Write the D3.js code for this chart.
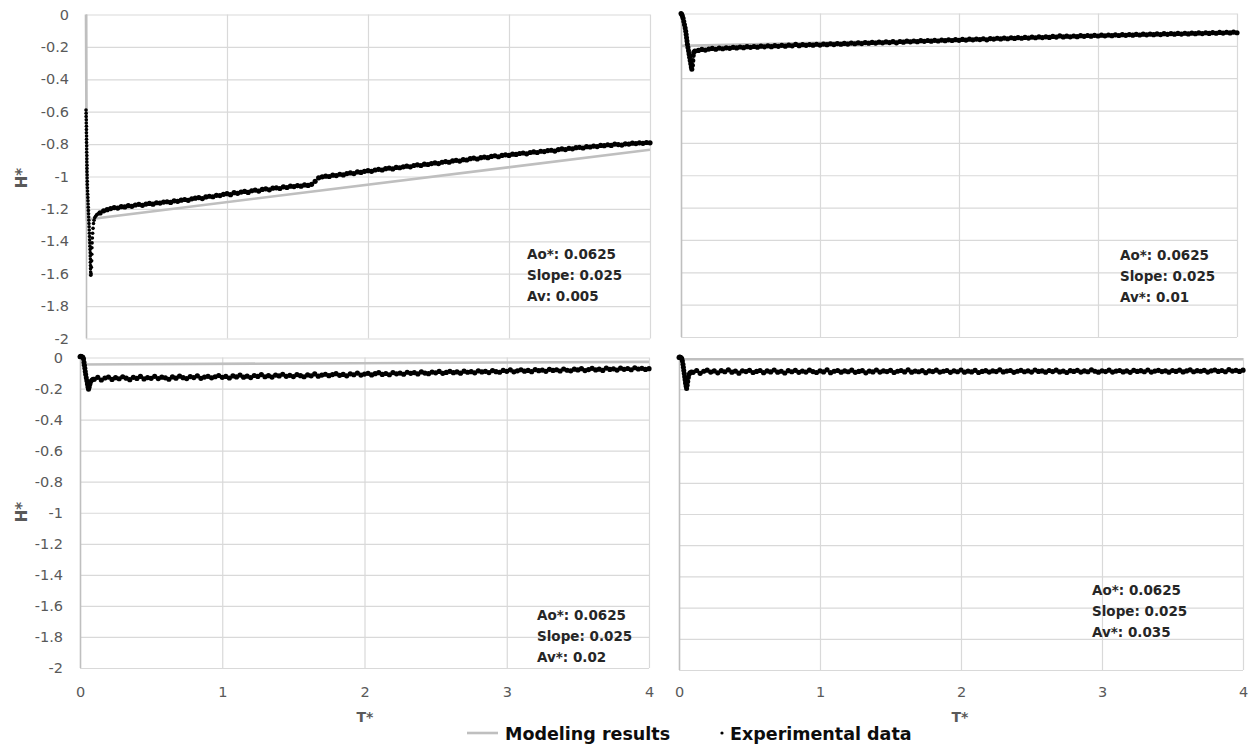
<!DOCTYPE html>
<html>
<head>
<meta charset="utf-8">
<script src="https://cdn.jsdelivr.net/npm/d3@7"></script>
<style>
  body { margin: 0; background: #fff; }
  svg { display: block; }
  text { font-family: "DejaVu Sans", "Open Sans", sans-serif; }
</style>
</head>
<body>
<svg id="chart" width="1255" height="749"></svg>
<script>
// ---- Data -------------------------------------------------------------
// Common dimensionless time grid (T*) for the logged experimental series
const tGrid = [
  0.100,0.125,0.150,0.175,0.200,0.225,0.250,0.275,
  0.300,0.325,0.350,0.375,0.400,0.425,0.450,0.475,
  0.500,0.525,0.550,0.575,0.600,0.625,0.650,0.675,
  0.700,0.725,0.750,0.775,0.800,0.825,0.850,0.875,
  0.900,0.925,0.950,0.975,1.000,1.025,1.050,1.075,
  1.100,1.125,1.150,1.175,1.200,1.225,1.250,1.275,
  1.300,1.325,1.350,1.375,1.400,1.425,1.450,1.475,
  1.500,1.525,1.550,1.575,1.600,1.625,1.650,1.675,
  1.700,1.725,1.750,1.775,1.800,1.825,1.850,1.875,
  1.900,1.925,1.950,1.975,2.000,2.025,2.050,2.075,
  2.100,2.125,2.150,2.175,2.200,2.225,2.250,2.275,
  2.300,2.325,2.350,2.375,2.400,2.425,2.450,2.475,
  2.500,2.525,2.550,2.575,2.600,2.625,2.650,2.675,
  2.700,2.725,2.750,2.775,2.800,2.825,2.850,2.875,
  2.900,2.925,2.950,2.975,3.000,3.025,3.050,3.075,
  3.100,3.125,3.150,3.175,3.200,3.225,3.250,3.275,
  3.300,3.325,3.350,3.375,3.400,3.425,3.450,3.475,
  3.500,3.525,3.550,3.575,3.600,3.625,3.650,3.675,
  3.700,3.725,3.750,3.775,3.800,3.825,3.850,3.875,
  3.900,3.925,3.950,3.975,4.000
];

// Experimental H* on tGrid, Av = 0.005
const hTopLeft = [
  -1.225,-1.212,-1.205,-1.198,-1.192,-1.195,-1.186,-1.188,
  -1.180,-1.184,-1.176,-1.172,-1.178,-1.170,-1.166,-1.171,
  -1.162,-1.164,-1.158,-1.156,-1.160,-1.150,-1.153,-1.146,
  -1.142,-1.147,-1.138,-1.134,-1.130,-1.136,-1.126,-1.122,
  -1.125,-1.116,-1.118,-1.110,-1.106,-1.112,-1.100,-1.104,
  -1.096,-1.092,-1.098,-1.088,-1.084,-1.090,-1.080,-1.076,
  -1.082,-1.072,-1.070,-1.074,-1.064,-1.068,-1.060,-1.062,
  -1.056,-1.060,-1.052,-1.055,-1.048,-1.030,-1.008,-1.002,
  -0.998,-1.000,-0.992,-0.994,-0.986,-0.990,-0.982,-0.978,
  -0.982,-0.972,-0.975,-0.968,-0.964,-0.968,-0.960,-0.956,
  -0.960,-0.952,-0.948,-0.953,-0.944,-0.946,-0.940,-0.936,
  -0.940,-0.932,-0.928,-0.932,-0.924,-0.926,-0.920,-0.916,
  -0.920,-0.912,-0.908,-0.912,-0.904,-0.900,-0.905,-0.896,
  -0.898,-0.890,-0.886,-0.892,-0.884,-0.880,-0.884,-0.876,
  -0.872,-0.878,-0.870,-0.866,-0.870,-0.862,-0.864,-0.858,
  -0.855,-0.860,-0.852,-0.848,-0.852,-0.844,-0.846,-0.840,
  -0.838,-0.843,-0.834,-0.830,-0.834,-0.826,-0.829,-0.822,
  -0.820,-0.824,-0.816,-0.818,-0.812,-0.815,-0.808,-0.810,
  -0.804,-0.808,-0.800,-0.803,-0.806,-0.798,-0.800,-0.794,
  -0.797,-0.792,-0.795,-0.790,-0.792
];

// Experimental H* on tGrid, Av* = 0.01
const hTopRight = [
  -0.232,-0.228,-0.222,-0.226,-0.220,-0.216,-0.221,-0.214,
  -0.218,-0.212,-0.215,-0.209,-0.213,-0.207,-0.211,-0.205,
  -0.209,-0.204,-0.208,-0.202,-0.206,-0.200,-0.205,-0.199,
  -0.203,-0.197,-0.202,-0.196,-0.200,-0.191,-0.199,-0.193,
  -0.197,-0.192,-0.196,-0.190,-0.195,-0.189,-0.193,-0.187,
  -0.192,-0.186,-0.190,-0.185,-0.189,-0.183,-0.187,-0.182,
  -0.186,-0.180,-0.184,-0.179,-0.183,-0.177,-0.181,-0.176,
  -0.180,-0.174,-0.181,-0.173,-0.177,-0.171,-0.175,-0.170,
  -0.174,-0.168,-0.172,-0.167,-0.171,-0.166,-0.170,-0.164,
  -0.168,-0.163,-0.167,-0.162,-0.166,-0.160,-0.164,-0.159,
  -0.163,-0.158,-0.161,-0.156,-0.163,-0.155,-0.158,-0.153,
  -0.157,-0.152,-0.156,-0.150,-0.154,-0.149,-0.153,-0.148,
  -0.152,-0.146,-0.150,-0.145,-0.149,-0.144,-0.148,-0.142,
  -0.146,-0.138,-0.145,-0.140,-0.144,-0.139,-0.143,-0.137,
  -0.141,-0.136,-0.140,-0.135,-0.139,-0.134,-0.138,-0.133,
  -0.137,-0.132,-0.136,-0.131,-0.135,-0.130,-0.134,-0.129,
  -0.133,-0.128,-0.132,-0.127,-0.131,-0.126,-0.130,-0.125,
  -0.129,-0.124,-0.128,-0.123,-0.127,-0.122,-0.126,-0.121,
  -0.125,-0.120,-0.124,-0.119,-0.123,-0.118,-0.122,-0.117,
  -0.121,-0.116,-0.120,-0.115,-0.119
];

// Experimental H* on tGrid, Av* = 0.02
const hBottomLeft = [
  -0.140,-0.128,-0.145,-0.132,-0.126,-0.141,-0.130,-0.137,
  -0.124,-0.133,-0.143,-0.128,-0.135,-0.122,-0.138,-0.129,
  -0.134,-0.121,-0.136,-0.127,-0.131,-0.140,-0.125,-0.133,
  -0.120,-0.130,-0.136,-0.123,-0.129,-0.118,-0.134,-0.126,
  -0.121,-0.131,-0.124,-0.116,-0.128,-0.122,-0.132,-0.119,
  -0.125,-0.113,-0.127,-0.120,-0.129,-0.116,-0.122,-0.110,
  -0.124,-0.117,-0.126,-0.113,-0.119,-0.108,-0.121,-0.115,
  -0.123,-0.110,-0.117,-0.124,-0.112,-0.118,-0.106,-0.120,
  -0.113,-0.108,-0.117,-0.110,-0.104,-0.115,-0.109,-0.118,
  -0.105,-0.111,-0.100,-0.113,-0.107,-0.102,-0.112,-0.104,
  -0.098,-0.109,-0.103,-0.111,-0.097,-0.105,-0.100,-0.108,
  -0.095,-0.102,-0.097,-0.106,-0.093,-0.100,-0.104,-0.094,
  -0.099,-0.090,-0.102,-0.096,-0.089,-0.098,-0.093,-0.101,
  -0.088,-0.095,-0.091,-0.099,-0.086,-0.093,-0.089,-0.097,
  -0.084,-0.091,-0.095,-0.083,-0.089,-0.080,-0.092,-0.086,
  -0.079,-0.088,-0.083,-0.091,-0.078,-0.085,-0.081,-0.089,
  -0.076,-0.083,-0.079,-0.087,-0.074,-0.082,-0.086,-0.075,
  -0.080,-0.072,-0.084,-0.078,-0.070,-0.080,-0.075,-0.083,
  -0.068,-0.077,-0.073,-0.081,-0.069,-0.076,-0.071,-0.079,
  -0.066,-0.074,-0.070,-0.077,-0.072
];

// Experimental H* on tGrid, Av* = 0.035
const hBottomRight = [
  -0.092,-0.080,-0.098,-0.085,-0.078,-0.090,-0.083,-0.095,
  -0.081,-0.088,-0.076,-0.091,-0.084,-0.097,-0.082,-0.087,
  -0.079,-0.093,-0.086,-0.080,-0.094,-0.083,-0.089,-0.077,
  -0.091,-0.085,-0.096,-0.081,-0.088,-0.079,-0.092,-0.084,
  -0.090,-0.078,-0.087,-0.093,-0.082,-0.089,-0.076,-0.094,
  -0.085,-0.080,-0.091,-0.083,-0.088,-0.078,-0.092,-0.086,
  -0.081,-0.095,-0.084,-0.089,-0.077,-0.090,-0.083,-0.087,
  -0.079,-0.093,-0.085,-0.080,-0.089,-0.076,-0.091,-0.084,
  -0.088,-0.081,-0.094,-0.083,-0.087,-0.078,-0.090,-0.085,
  -0.080,-0.092,-0.082,-0.088,-0.077,-0.091,-0.084,-0.089,
  -0.079,-0.093,-0.086,-0.081,-0.090,-0.083,-0.087,-0.076,
  -0.089,-0.084,-0.080,-0.092,-0.085,-0.079,-0.088,-0.082,
  -0.090,-0.077,-0.086,-0.083,-0.091,-0.080,-0.087,-0.078,
  -0.089,-0.084,-0.093,-0.081,-0.086,-0.079,-0.090,-0.083,
  -0.088,-0.076,-0.085,-0.091,-0.082,-0.087,-0.078,-0.090,
  -0.084,-0.080,-0.089,-0.083,-0.092,-0.079,-0.086,-0.081,
  -0.088,-0.077,-0.090,-0.084,-0.079,-0.087,-0.082,-0.091,
  -0.080,-0.086,-0.078,-0.089,-0.083,-0.076,-0.088,-0.081,
  -0.085,-0.079,-0.090,-0.082,-0.077,-0.086,-0.080,-0.088,
  -0.075,-0.084,-0.079,-0.086,-0.078
];

// Early transient (T* < 0.1), logged more densely
const tStartTopLeft = [0.000,0.001,0.001,0.002,0.002,0.003,0.003,0.003,0.004,0.004,0.004,0.005,0.005,0.005,0.006,0.006,0.006,0.007,0.007,0.007,0.008,0.008,0.009,0.009,0.010,0.011,0.012,0.013,0.014,0.015,0.016,0.017,0.018,0.019,0.020,0.021,0.022,0.023,0.024,0.025,0.026,0.027,0.028,0.029,0.030,0.030,0.031,0.031,0.032,0.032,0.033,0.034,0.036,0.038,0.040,0.041,0.042,0.043,0.045,0.047,0.050,0.053,0.057,0.062,0.068,0.075,0.083,0.091];
const hStartTopLeft = [-0.59,-0.61,-0.63,-0.65,-0.67,-0.69,-0.71,-0.73,-0.75,-0.77,-0.79,-0.81,-0.83,-0.85,-0.87,-0.89,-0.91,-0.93,-0.95,-0.97,-0.99,-1.01,-1.03,-1.05,-1.07,-1.09,-1.11,-1.13,-1.15,-1.17,-1.19,-1.21,-1.23,-1.25,-1.27,-1.29,-1.31,-1.33,-1.35,-1.37,-1.39,-1.41,-1.43,-1.45,-1.47,-1.49,-1.51,-1.53,-1.55,-1.57,-1.59,-1.61,-1.60,-1.56,-1.52,-1.48,-1.44,-1.41,-1.38,-1.35,-1.32,-1.29,-1.27,-1.255,-1.245,-1.237,-1.232,-1.228];

const tStartTopRight = [0.000,0.005,0.010,0.015,0.020,0.025,0.030,0.034,0.037,0.040,0.043,0.046,0.050,0.054,0.058,0.062,0.066,0.070,0.074,0.078,0.082,0.085,0.088,0.092];
const hStartTopRight = [0.000,-0.005,-0.015,-0.030,-0.050,-0.070,-0.090,-0.110,-0.130,-0.150,-0.170,-0.190,-0.210,-0.230,-0.250,-0.270,-0.290,-0.310,-0.330,-0.345,-0.320,-0.290,-0.260,-0.240];

const tStartBottomLeft = [0.000,0.005,0.010,0.015,0.020,0.025,0.028,0.031,0.034,0.037,0.040,0.044,0.048,0.052,0.056,0.060,0.065,0.070,0.075,0.085,0.092];
const hStartBottomLeft = [0.005,0.008,0.006,0.004,0.002,-0.010,-0.030,-0.050,-0.070,-0.090,-0.110,-0.130,-0.150,-0.170,-0.190,-0.205,-0.190,-0.170,-0.155,-0.145,-0.140];

const tStartBottomRight = [0.000,0.004,0.008,0.012,0.016,0.020,0.024,0.028,0.031,0.034,0.037,0.040,0.043,0.046,0.050,0.054,0.058,0.062,0.066,0.071,0.078,0.088];
const hStartBottomRight = [0.003,0.006,0.005,0.003,0.000,-0.005,-0.020,-0.040,-0.060,-0.080,-0.100,-0.120,-0.140,-0.160,-0.180,-0.195,-0.175,-0.150,-0.125,-0.105,-0.095,-0.090];

// Model curves (T*, H*)
const modelTTopLeft = [0, 0.006, 4];
const modelHTopLeft = [0, -1.265, -0.835];
const modelTTopRight = [0, 4];
const modelHTopRight = [-0.2, -0.122];
const modelTBottomLeft = [0, 4];
const modelHBottomLeft = [-0.045, -0.028];
const modelTBottomRight = [0, 4];
const modelHBottomRight = [-0.008, -0.008];

// Parameter notes
const notesTopLeft = ["Ao*: 0.0625", "Slope: 0.025", "Av: 0.005"];
const notesTopRight = ["Ao*: 0.0625", "Slope: 0.025", "Av*: 0.01"];
const notesBottomLeft = ["Ao*: 0.0625", "Slope: 0.025", "Av*: 0.02"];
const notesBottomRight = ["Ao*: 0.0625", "Slope: 0.025", "Av*: 0.035"];

// Axes
const xTicks = [0, 1, 2, 3, 4];
const xTickLabels = ["0", "1", "2", "3", "4"];
const yTicks = [0, -0.2, -0.4, -0.6, -0.8, -1, -1.2, -1.4, -1.6, -1.8, -2];
const yTickLabels = ["0", "-0.2", "-0.4", "-0.6", "-0.8", "-1", "-1.2", "-1.4", "-1.6", "-1.8", "-2"];
const xTitle = "T*";
const yTitle = "H*";
const legendLabels = ["Modeling results", "Experimental data"];

// ---- Layout -----------------------------------------------------------
const panels = [
  { x0: 86, x1: 650, y0: 14.5, y1: 338.5, t: tGrid, h: hTopLeft, ts: tStartTopLeft, hs: hStartTopLeft, rs: 1.8,
    mt: modelTTopLeft, mh: modelHTopLeft, notes: notesTopLeft, note: [527, 259], yLab: true, xLab: false },
  { x0: 681, x1: 1237, y0: 13.5, y1: 337, t: tGrid, h: hTopRight, ts: tStartTopRight, hs: hStartTopRight, rs: 2.5,
    mt: modelTTopRight, mh: modelHTopRight, notes: notesTopRight, note: [1120, 260], yLab: false, xLab: false },
  { x0: 80, x1: 649, y0: 357.5, y1: 668, t: tGrid, h: hBottomLeft, ts: tStartBottomLeft, hs: hStartBottomLeft, rs: 2.5,
    mt: modelTBottomLeft, mh: modelHBottomLeft, notes: notesBottomLeft, note: [537, 620], yLab: true, xLab: true },
  { x0: 679, x1: 1243, y0: 358, y1: 670, t: tGrid, h: hBottomRight, ts: tStartBottomRight, hs: hStartBottomRight, rs: 2.5,
    mt: modelTBottomRight, mh: modelHBottomRight, notes: notesBottomRight, note: [1092, 594.5], yLab: false, xLab: true }
];

const GRID = "#d9d9d9", AXIS = "#bfbfbf", TICK_TXT = "#595959", MODEL = "#bfbfbf";
const svg = d3.select("#chart");

panels.forEach(p => {
  const x = d3.scaleLinear().domain([0, 4]).range([p.x0, p.x1]);
  const y = d3.scaleLinear().domain([-2, 0]).range([p.y1, p.y0]);
  const g = svg.append("g");

  // horizontal gridlines + y tick labels
  const yAxis = d3.axisLeft(y)
    .tickValues(yTicks)
    .tickSize(-(p.x1 - p.x0))
    .tickPadding(17)
    .tickFormat((d, i) => p.yLab ? yTickLabels[i] : "");
  const gy = g.append("g").attr("transform", `translate(${p.x0},0)`).call(yAxis);
  gy.select(".domain").remove();
  gy.selectAll("line").attr("stroke", GRID).attr("stroke-width", 1.2);
  gy.selectAll("text").attr("fill", TICK_TXT).style("font-size", "14.5px")
    .style("font-family", '"DejaVu Sans", sans-serif');

  // vertical gridlines + x tick labels
  const xAxis = d3.axisBottom(x)
    .tickValues(xTicks)
    .tickSize(-(p.y1 - p.y0))
    .tickPadding(697 - 10 - p.y1)
    .tickFormat((d, i) => p.xLab ? xTickLabels[i] : "");
  const gx = g.append("g").attr("transform", `translate(0,${p.y1})`).call(xAxis);
  gx.select(".domain").remove();
  gx.selectAll("line").attr("stroke", d => d === 0 ? AXIS : GRID).attr("stroke-width", d => d === 0 ? 1.6 : 1.2);
  gx.selectAll("text").attr("fill", TICK_TXT).style("font-size", "14.5px")
    .style("font-family", '"DejaVu Sans", sans-serif');

  // model curve
  const line = d3.line().x(d => x(d[0])).y(d => y(d[1]));
  g.append("path")
    .datum(p.mt.map((t, i) => [t, p.mh[i]]))
    .attr("d", line)
    .attr("fill", "none")
    .attr("stroke", MODEL)
    .attr("stroke-width", 2.6);

  // experimental points: early transient, then the regular log
  const dots = g.append("g").attr("fill", "#000");
  dots.selectAll("circle.start")
    .data(p.ts.map((t, i) => [t, p.hs[i]]))
    .join("circle")
    .attr("class", "start")
    .attr("cx", d => x(d[0]))
    .attr("cy", d => y(d[1]))
    .attr("r", p.rs);
  dots.selectAll("circle.log")
    .data(p.t.slice(0, p.h.length).map((t, i) => [t, p.h[i]]))
    .join("circle")
    .attr("class", "log")
    .attr("cx", d => x(d[0]))
    .attr("cy", d => y(d[1]))
    .attr("r", 2.6);

  // parameter notes
  g.append("g").selectAll("text")
    .data(p.notes)
    .join("text")
    .attr("x", p.note[0])
    .attr("y", (d, i) => p.note[1] + i * 21)
    .attr("fill", "#262626")
    .style("font-size", "13.5px")
    .style("font-weight", "bold")
    .text(d => d);
});

// axis titles
[178, 512].forEach(cy => {
  svg.append("text")
    .attr("transform", `translate(22,${cy}) rotate(-90)`)
    .attr("text-anchor", "middle")
    .attr("dominant-baseline", "central")
    .attr("fill", TICK_TXT)
    .style("font-size", "15px")
    .style("font-weight", "bold")
    .text(yTitle);
});
[365, 960].forEach(cx => {
  svg.append("text")
    .attr("x", cx).attr("y", 722)
    .attr("text-anchor", "middle")
    .attr("fill", TICK_TXT)
    .style("font-size", "14px")
    .style("font-weight", "bold")
    .text(xTitle);
});

// legend
const lg = svg.append("g");
lg.append("line").attr("x1", 467).attr("x2", 498).attr("y1", 733).attr("y2", 733)
  .attr("stroke", MODEL).attr("stroke-width", 2.6);
lg.append("text").attr("x", 505).attr("y", 740).attr("fill", "#0d0d0d")
  .style("font-size", "17.5px").style("font-weight", "bold").text(legendLabels[0]);
lg.append("circle").attr("cx", 722).attr("cy", 733).attr("r", 1.6).attr("fill", "#000");
lg.append("text").attr("x", 730).attr("y", 740).attr("fill", "#0d0d0d")
  .style("font-size", "17.5px").style("font-weight", "bold").text(legendLabels[1]);
</script>
</body>
</html>
